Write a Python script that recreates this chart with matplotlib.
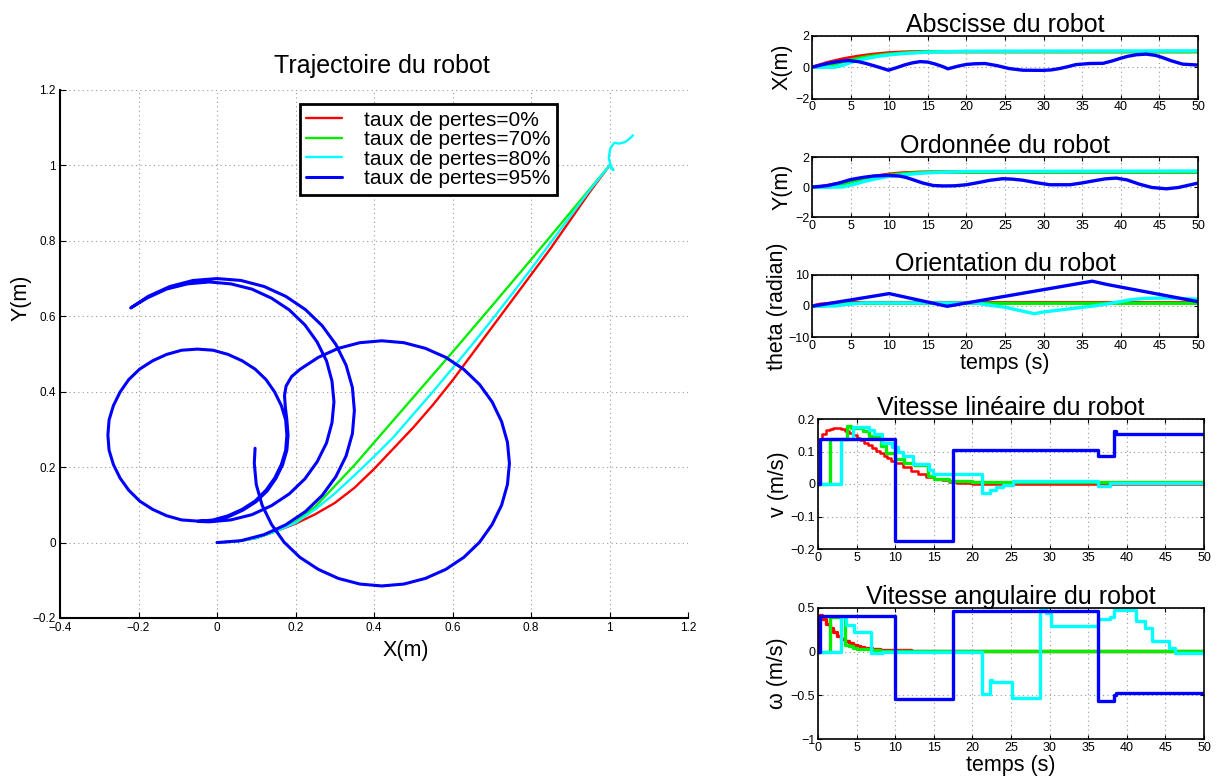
import matplotlib
matplotlib.use("Agg")
import matplotlib.pyplot as plt
from matplotlib.ticker import FuncFormatter, MultipleLocator

plt.rcParams['font.family'] = ['Liberation Sans', 'DejaVu Sans']

# ---------------- data: trajectories (x, y) ----------------
labels = ["taux de pertes=0%", "taux de pertes=70%", "taux de pertes=80%", "taux de pertes=95%"]
colors = ["#ff0000", "#00ee00", "#00ffff", "#0000ff"]

red_x = [0, 0.05, 0.1, 0.15, 0.2, 0.25, 0.3, 0.35, 0.4, 0.45, 0.5, 0.55, 0.6, 0.65, 0.7, 0.75, 0.8, 0.85, 0.9, 0.95, 1.0]
red_y = [0, 0.003, 0.012, 0.03, 0.05, 0.075, 0.105, 0.145, 0.195, 0.25, 0.305, 0.365, 0.43, 0.5, 0.57, 0.64, 0.71, 0.78, 0.855, 0.93, 1.0]

green_x = [0, 0.05, 0.1, 0.15, 0.2, 0.25, 0.3, 0.35, 0.4, 0.5, 0.6, 0.7, 0.8, 0.9, 1.0]
green_y = [0, 0.003, 0.012, 0.03, 0.055, 0.095, 0.15, 0.205, 0.265, 0.385, 0.505, 0.627, 0.75, 0.875, 1.0]

cyan_x = [0, 0.05, 0.1, 0.15, 0.2, 0.25, 0.3, 0.35, 0.4, 0.45, 0.5, 0.55, 0.6, 0.65, 0.7, 0.75, 0.8, 0.85, 0.9, 0.95, 1.0,
          1.01, 1.004, 0.998, 1.002, 1.012, 1.025, 1.04, 1.05, 1.06]
cyan_y = [0, 0.003, 0.012, 0.03, 0.052, 0.088, 0.13, 0.178, 0.228, 0.28, 0.34, 0.4, 0.462, 0.525, 0.59, 0.657, 0.725, 0.795, 0.865, 0.935, 1.0,
          0.988, 0.995, 1.02, 1.045, 1.06, 1.058, 1.062, 1.07, 1.08]

blue_x = [0, 0.061, 0.120, 0.175, 0.225, 0.268, 0.303, 0.329, 0.345, 0.35, 0.345, 0.329, 0.303, 0.268, 0.225, 0.175,
          0.120, 0.061, 0, -0.061, -0.120, -0.175, -0.220,
          -0.179, -0.129, -0.075, -0.02, 0.035, 0.089, 0.139, 0.184, 0.224, 0.255, 0.279, 0.293, 0.298, 0.293, 0.279,
          0.255, 0.224, 0.184, 0.139, 0.089, 0.035, -0.02, -0.048,
          -0.010, 0.028, 0.064, 0.097, 0.125, 0.147, 0.164, 0.175, 0.178, 0.175, 0.164, 0.147, 0.125, 0.097, 0.064,
          0.028, -0.010, -0.05, -0.090, -0.128, -0.164, -0.197, -0.225, -0.247, -0.264, -0.275, -0.278, -0.275, -0.264,
          -0.247, -0.225, -0.197, -0.164, -0.128, -0.090, -0.05,
          -0.009, 0.030, 0.066, 0.099, 0.128, 0.150, 0.167, 0.178, 0.181, 0.178, 0.174, 0.172, 0.176,
          0.190, 0.211, 0.258, 0.309, 0.364, 0.42, 0.476, 0.531, 0.583, 0.629, 0.669, 0.701, 0.725, 0.740, 0.745,
          0.740, 0.725, 0.701, 0.669, 0.629, 0.583, 0.531, 0.476, 0.42, 0.364, 0.309, 0.258, 0.211, 0.171, 0.139,
          0.115, 0.100, 0.095, 0.097]
blue_y = [0, 0.005, 0.021, 0.047, 0.082, 0.125, 0.175, 0.230, 0.289, 0.35, 0.411, 0.470, 0.525, 0.575, 0.618, 0.653,
          0.679, 0.695, 0.70, 0.695, 0.679, 0.653, 0.622,
          0.648, 0.672, 0.686, 0.691, 0.686, 0.672, 0.648, 0.617, 0.577, 0.532, 0.482, 0.428, 0.373, 0.318, 0.264,
          0.214, 0.169, 0.129, 0.098, 0.074, 0.060, 0.055, 0.056,
          0.060, 0.071, 0.088, 0.110, 0.139, 0.171, 0.207, 0.245, 0.285, 0.325, 0.363, 0.399, 0.432, 0.460, 0.482,
          0.499, 0.510, 0.513, 0.510, 0.499, 0.482, 0.460, 0.432, 0.399, 0.363, 0.325, 0.285, 0.245, 0.207,
          0.171, 0.139, 0.110, 0.088, 0.071, 0.060, 0.057,
          0.058, 0.069, 0.086, 0.108, 0.137, 0.170, 0.206, 0.245, 0.285, 0.325, 0.36, 0.39, 0.415,
          0.440, 0.459, 0.491, 0.515, 0.530, 0.535, 0.530, 0.515, 0.491, 0.459, 0.419, 0.373, 0.321, 0.266, 0.21,
          0.154, 0.099, 0.048, 0.001, -0.039, -0.071, -0.095, -0.110, -0.115, -0.110, -0.095, -0.071, -0.039, 0.001, 0.048,
          0.099, 0.154, 0.21, 0.25]

# ---------------- data: time series ----------------
red_tx = [0, 1, 2, 3, 4, 5, 6, 7, 8, 9, 10, 11, 12, 13, 14, 15, 50]
red_X = [0, 0.15, 0.3, 0.42, 0.53, 0.62, 0.7, 0.77, 0.83, 0.88, 0.92, 0.95, 0.97, 0.985, 0.995, 1.0, 1.0]
red_Y = [0, 0.02, 0.11, 0.21, 0.31, 0.42, 0.52, 0.62, 0.71, 0.79, 0.86, 0.91, 0.95, 0.97, 0.99, 1.0, 1.0]
red_TH = [0, 0.55, 0.78, 0.92, 1.0, 1.05, 1.08, 1.1, 1.1, 1.1, 1.1, 1.1, 1.1, 1.1, 1.1, 1.1, 1.1]

green_tx = [0, 1.5, 2, 3, 4, 5, 6, 7, 8, 9, 10, 11, 12, 13, 14, 15, 16, 50]
green_X = [0, 0, 0.07, 0.21, 0.35, 0.47, 0.57, 0.66, 0.73, 0.79, 0.84, 0.88, 0.92, 0.95, 0.97, 0.99, 1.0, 1.0]
green_Y = [0, 0, 0.002, 0.06, 0.2, 0.35, 0.47, 0.58, 0.66, 0.74, 0.8, 0.85, 0.9, 0.94, 0.96, 0.99, 1.0, 1.0]
green_TH = [0, 0, 0.2, 0.6, 0.8, 0.84, 0.86, 0.87, 0.88, 0.88, 0.88, 0.88, 0.88, 0.88, 0.88, 0.88, 0.88, 0.88]

cyan_tx = [0, 3, 4, 5, 6, 7, 8, 9, 10, 11, 12, 13, 14, 15, 16, 18, 20, 50]
cyan_X = [0, 0, 0.13, 0.3, 0.44, 0.56, 0.65, 0.73, 0.79, 0.84, 0.88, 0.91, 0.94, 0.96, 0.98, 1.0, 1.02, 1.05]
cyan_Y = [0, 0, 0.015, 0.13, 0.26, 0.41, 0.52, 0.63, 0.71, 0.78, 0.83, 0.87, 0.92, 0.95, 0.97, 1.0, 1.04, 1.07]

cyan_tth = [0, 3, 3.6, 4.6, 6.9, 8.3, 21.3, 22.3, 25.1, 28.8, 29.5, 30.2, 36.3, 37.8, 38.4, 41.2, 42.3, 43.2, 45.5, 46.3, 50]
cyan_TH = [0, 0, 0.24, 0.54, 1.0, 0.98, 0.98, 0.5, -0.45, -2.5, -2.15, -1.85, -0.05, 0.5, 0.75, 2.0, 2.3, 2.45, 2.55, 2.55, 2.2]

blue_tx = [0, 1, 2, 3, 4, 4.7, 6, 7, 8, 9, 9.9, 11, 12, 13, 14, 15, 16, 17, 17.6, 19, 20, 21, 22.4, 24, 25.5,
           27.3, 29.9, 31, 32.1, 33, 34.2, 36, 37.7, 39, 40, 40.9, 42, 43.3, 44.5, 45.4, 46.5, 48, 50]
blue_X = [0, 0.12, 0.24, 0.33, 0.4, 0.43, 0.36, 0.24, 0.1, -0.05, -0.19, -0.02, 0.15, 0.28, 0.36, 0.33, 0.2, 0.03, -0.1,
          0.08, 0.18, 0.22, 0.24, 0.1, -0.08, -0.19, -0.2, -0.17, -0.08, 0.02, 0.17, 0.24, 0.25, 0.42, 0.58, 0.7, 0.8,
          0.84, 0.76, 0.62, 0.42, 0.2, 0.14]
blue_ty = [0, 2, 3.5, 4.9, 6.5, 8, 9.9, 11.4, 12.2, 13.1, 14.3, 15.7, 17, 18.5, 20, 21.5, 23, 24.7, 26, 27.3, 29,
           30.8, 33.4, 35, 36.5, 38, 39.4, 40.8, 42.4, 44, 45.9, 47.5, 50]
blue_Y = [0, 0.1, 0.27, 0.49, 0.64, 0.74, 0.78, 0.73, 0.64, 0.49, 0.28, 0.11, 0.08, 0.09, 0.16, 0.3, 0.45, 0.56, 0.53,
          0.46, 0.3, 0.16, 0.16, 0.28, 0.42, 0.55, 0.6, 0.48, 0.2, -0.02, -0.11, -0.02, 0.27]

blue_tth = [0, 0.2, 10, 17.5, 36.3, 38.3, 50]
blue_TH = [0, 0, 4.0, -0.1, 8.0, 6.9, 1.4]

# v(t)  (sample-and-hold)
red_tv = [0, 0.2, 0.5, 1, 1.5, 2, 2.5, 3, 3.5, 4, 4.5, 5, 5.5, 6, 6.5, 7, 7.5, 8, 8.5, 9, 9.5, 10, 11, 12, 13, 14,
          15, 16, 17, 18, 19, 20, 50]
red_v = [0, 0.14, 0.155, 0.165, 0.17, 0.172, 0.171, 0.168, 0.163, 0.157, 0.15, 0.143, 0.135, 0.127, 0.119, 0.111,
         0.103, 0.095, 0.087, 0.079, 0.072, 0.065, 0.052, 0.04, 0.03, 0.022, 0.016, 0.011, 0.007, 0.004, 0.002, 0.001, 0.0]
green_tv = [0, 1.5, 3.7, 4.3, 5.8, 6.6, 8.2, 8.8, 10.0, 11.1, 12.4, 14.2, 15.0, 17.0, 20.0, 50]
green_v = [0, 0.137, 0.18, 0.172, 0.162, 0.148, 0.118, 0.095, 0.078, 0.065, 0.058, 0.025, 0.015, 0.008, 0.005, 0.005]
cyan_tv = [0, 3.0, 4.5, 6.6, 7.3, 8.3, 9.6, 10.3, 11.0, 12.3, 14.4, 14.9, 21.3, 22.3, 23.0, 24.0, 25.3, 36.3, 37.8, 50]
cyan_v = [0, 0.14, 0.175, 0.165, 0.155, 0.125, 0.115, 0.1, 0.085, 0.063, 0.043, 0.03, -0.027, -0.018, -0.01, -0.003,
          0.01, -0.005, 0.002, 0.002]
blue_tv = [0, 0.2, 10, 17.5, 36.3, 38.3, 38.6, 50]
blue_v = [0, 0.14, -0.175, 0.105, 0.085, 0.163, 0.155, 0.155]

# omega(t)
red_tw = [0, 0.1, 0.5, 1, 1.5, 2, 2.5, 3, 3.5, 4, 4.5, 5, 5.5, 6, 7, 8, 9, 10, 12, 15, 20, 25, 30, 35, 40, 45, 50]
red_w = [0, 0.42, 0.37, 0.32, 0.27, 0.22, 0.18, 0.15, 0.12, 0.095, 0.075, 0.06, 0.05, 0.04, 0.03, 0.022, 0.018,
         0.015, 0.012, 0.012, 0.01, 0.012, 0.01, 0.012, 0.01, 0.012, 0.01]
green_tw = [0, 1.5, 3.5, 4.0, 4.5, 5.0, 6.0, 7.0, 8.0, 10.0, 50]
green_w = [0, 0.4, 0.08, 0.06, 0.045, 0.035, 0.025, 0.018, 0.012, 0.008, 0.008]
cyan_tw = [0, 3.0, 3.6, 4.6, 6.9, 8.3, 21.3, 22.3, 22.6, 25.1, 28.8, 29.5, 30.2, 36.3, 37.8, 38.4, 41.2, 42.3, 43.2,
           45.5, 46.3, 50]
cyan_w = [0, 0.4, 0.31, 0.23, -0.02, 0.0, -0.49, -0.32, -0.35, -0.53, 0.5, 0.44, 0.29, 0.37, 0.4, 0.48, 0.35, 0.27,
          0.12, 0.04, -0.01, -0.01]
blue_tw = [0, 0.2, 10, 17.5, 36.3, 38.3, 38.6, 50]
blue_w = [0, 0.405, -0.545, 0.46, -0.57, -0.5, -0.47, -0.47]

# ---------------- figure ----------------
fig = plt.figure(figsize=(12.18, 7.84), dpi=100)
W, H = 1218.0, 784.0


def place(l, r, t, b):
    return fig.add_axes([l / W, 1 - b / H, (r - l) / W, (b - t) / H])


fmt = FuncFormatter(lambda v, p: ("%g" % round(v, 6)).replace("-", "\u2212"))
grid_kw = dict(color="0.6", linestyle=(0, (1, 3)), linewidth=0.8)

# main trajectory axes
ax = place(60, 688, 90, 618)
lw_main = [1.7, 1.7, 1.7, 2.2]
for xs, ys, c, lab, lw in zip([red_x, green_x, cyan_x, blue_x], [red_y, green_y, cyan_y, blue_y],
                             colors, labels, lw_main):
    ax.plot(xs, ys, color=c, lw=lw, label=lab, solid_joinstyle="round", solid_capstyle="round")
ax.set_xlim(-0.4, 1.2)
ax.set_ylim(-0.2, 1.2)
ax.xaxis.set_major_locator(MultipleLocator(0.2))
ax.yaxis.set_major_locator(MultipleLocator(0.2))
ax.xaxis.set_major_formatter(fmt)
ax.yaxis.set_major_formatter(fmt)
ax.grid(True, **grid_kw)
for s in ["top", "right"]:
    ax.spines[s].set_visible(False)
for s in ["left", "bottom"]:
    ax.spines[s].set_linewidth(1.5)
ax.tick_params(direction="in", length=4, labelsize=8.5, pad=3)
ax.set_title("Trajectoire du robot", fontsize=18, x=0.513, y=1.032, pad=0)
ax.set_xlabel("X(m)", fontsize=15.5)
ax.xaxis.set_label_coords(0.551, -0.042)
ax.set_ylabel("Y(m)", fontsize=15.5)
ax.yaxis.set_label_coords(-0.045, 0.606)
leg = ax.legend(loc="upper left", bbox_to_anchor=(0.382, 0.973), borderaxespad=0, fontsize=15,
                handlelength=1.7, handletextpad=1.1, labelspacing=0.03, borderpad=0.3,
                fancybox=False, framealpha=1, edgecolor="black")
leg.get_frame().set_linewidth(2.0)


def style_small(a, ylim, yticks, label, lab_x):
    a.set_xlim(0, 50)
    a.set_ylim(*ylim)
    a.set_xticks(range(0, 51, 5))
    a.set_yticks(yticks)
    a.xaxis.set_major_formatter(fmt)
    a.yaxis.set_major_formatter(fmt)
    a.grid(True, **grid_kw)
    a.tick_params(direction="in", length=3, labelsize=9, pad=2, top=True, right=True)
    for s in a.spines.values():
        s.set_linewidth(1.2)
    a.set_ylabel(label, fontsize=15.5)
    a.yaxis.set_label_coords(lab_x, 0.5)


lw_s = 2.4
ax1 = place(812, 1198, 36, 98.5)
ax1.plot(red_tx, red_X, color=colors[0], lw=lw_s)
ax1.plot(green_tx, green_X, color=colors[1], lw=lw_s)
ax1.plot(cyan_tx, cyan_X, color=colors[2], lw=lw_s)
ax1.plot(blue_tx, blue_X, color=colors[3], lw=lw_s)
style_small(ax1, (-2, 2), [-2, 0, 2], "X(m)", -0.05)
ax1.set_title("Abscisse du robot", fontsize=18, pad=3)

ax2 = place(812, 1198, 157, 217.3)
ax2.plot(red_tx, red_Y, color=colors[0], lw=lw_s)
ax2.plot(green_tx, green_Y, color=colors[1], lw=lw_s)
ax2.plot(cyan_tx, cyan_Y, color=colors[2], lw=lw_s)
ax2.plot(blue_ty, blue_Y, color=colors[3], lw=lw_s)
style_small(ax2, (-2, 2), [-2, 0, 2], "Y(m)", -0.05)
ax2.set_title("Ordonnée du robot", fontsize=18, pad=3)

ax3 = place(812, 1198, 275, 337)
ax3.plot(red_tx, red_TH, color=colors[0], lw=lw_s)
ax3.plot(green_tx, green_TH, color=colors[1], lw=lw_s)
ax3.plot(cyan_tth, cyan_TH, color=colors[2], lw=lw_s)
ax3.plot(blue_tth, blue_TH, color=colors[3], lw=lw_s)
style_small(ax3, (-10, 10), [-10, 0, 10], "theta (radian)", -0.062)
ax3.set_title("Orientation du robot", fontsize=18, pad=3)
ax3.set_xlabel("temps (s)", fontsize=15.5, labelpad=1)

ax4 = place(818, 1204, 419, 549)
ax4.plot(red_tv, red_v, color=colors[0], lw=1.8, drawstyle="steps-post")
ax4.plot(green_tv, green_v, color=colors[1], lw=lw_s, drawstyle="steps-post")
ax4.plot(cyan_tv, cyan_v, color=colors[2], lw=lw_s, drawstyle="steps-post")
ax4.plot(blue_tv, blue_v, color=colors[3], lw=lw_s, drawstyle="steps-post")
style_small(ax4, (-0.2, 0.2), [-0.2, -0.1, 0, 0.1, 0.2], "v (m/s)", -0.075)
ax4.set_title("Vitesse linéaire du robot", fontsize=18, pad=3)

ax5 = place(818, 1204, 608, 739)
ax5.plot(red_tw, red_w, color=colors[0], lw=lw_s, drawstyle="steps-post")
ax5.plot(green_tw, green_w, color=colors[1], lw=lw_s, drawstyle="steps-post")
ax5.plot(cyan_tw, cyan_w, color=colors[2], lw=lw_s, drawstyle="steps-post")
ax5.plot(blue_tw, blue_w, color=colors[3], lw=lw_s, drawstyle="steps-post")
style_small(ax5, (-1, 0.5), [-1, -0.5, 0, 0.5], "\u03c9 (m/s)", -0.078)
ax5.set_title("Vitesse angulaire du robot", fontsize=18, pad=3)
ax5.set_xlabel("temps (s)", fontsize=15.5, labelpad=1)

fig.savefig("out.png", dpi=100)
